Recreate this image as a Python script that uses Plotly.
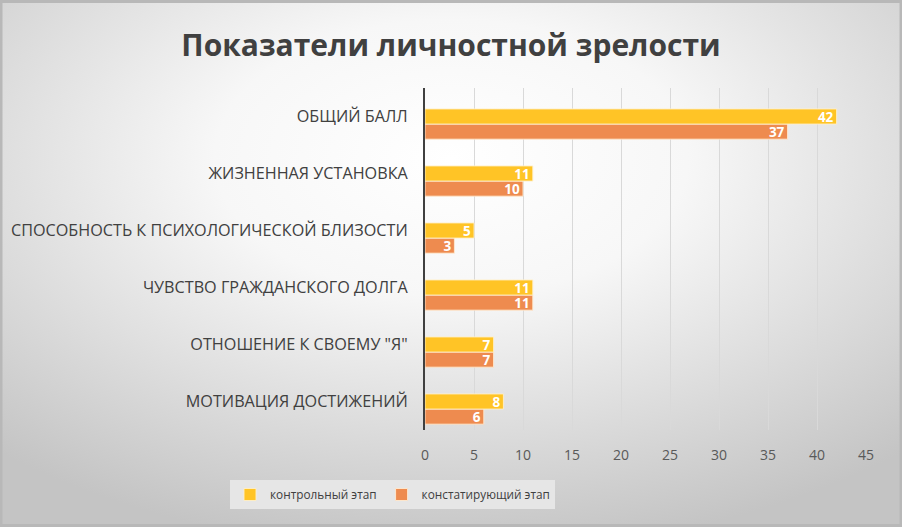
import base64
import plotly.graph_objects as go

categories = [
    "МОТИВАЦИЯ ДОСТИЖЕНИЙ",
    "ОТНОШЕНИЕ К СВОЕМУ \"Я\"",
    "ЧУВСТВО ГРАЖДАНСКОГО ДОЛГА",
    "СПОСОБНОСТЬ К ПСИХОЛОГИЧЕСКОЙ БЛИЗОСТИ",
    "ЖИЗНЕННАЯ УСТАНОВКА",
    "ОБЩИЙ БАЛЛ",
]
control_values = [8, 7, 11, 5, 11, 42]
ascertain_values = [6, 7, 11, 3, 10, 37]
series_names = ["контрольный этап", "констатирующий этап"]
x_ticks = [0, 5, 10, 15, 20, 25, 30, 35, 40, 45]

W, H = 902, 527
ML, MR, MT, MB = 425, 36, 88, 97
PW, PH = W - ML - MR, H - MT - MB

BAR_W = 0.265  # bar thickness in category units

svg = f'''<svg xmlns="http://www.w3.org/2000/svg" width="{W}" height="{H}" viewBox="0 0 {W} {H}">
<defs><radialGradient id="g" cx="50%" cy="30%" r="75%">
<stop offset="0" stop-color="#ffffff"/><stop offset="0.35" stop-color="#f7f7f7"/>
<stop offset="1" stop-color="#c4c4c4"/></radialGradient></defs>
<rect x="0" y="0" width="{W}" height="{H}" fill="url(#g)"/>
<rect x="1" y="1.5" width="{W-2}" height="{H-3}" fill="none" stroke="#b8b8b8" stroke-width="3"/>
</svg>'''
bg_src = "data:image/svg+xml;base64," + base64.b64encode(svg.encode("utf-8")).decode()

label_font = dict(color="white", size=13.5, family="Open Sans", weight="bold")

fig = go.Figure()
fig.add_trace(go.Bar(
    y=categories, x=ascertain_values, name=series_names[1], orientation="h",
    width=BAR_W, offset=-1.5 * BAR_W,
    marker=dict(color="#EE8B4F", line=dict(color="rgba(255,235,210,0.9)", width=1)),
    text=ascertain_values, textposition="inside", insidetextanchor="end",
    textfont=label_font, textangle=0, constraintext="none", cliponaxis=False,
))
fig.add_trace(go.Bar(
    y=categories, x=control_values, name=series_names[0], orientation="h",
    width=BAR_W, offset=-0.5 * BAR_W,
    marker=dict(color="#FFC426", line=dict(color="rgba(255,240,200,0.9)", width=1)),
    text=control_values, textposition="inside", insidetextanchor="end",
    textfont=label_font, textangle=0, constraintext="none", cliponaxis=False,
))

fig.update_layout(
    width=W, height=H,
    margin=dict(l=ML, r=MR, t=MT, b=MB, autoexpand=False),
    paper_bgcolor="#d0d0d0",
    plot_bgcolor="rgba(0,0,0,0)",
    barmode="overlay",
    font=dict(family="Open Sans", color="#404040"),
    title=dict(text="Показатели личностной зрелости", x=0.5, xref="container", xanchor="center",
               y=1 - 45 / H, yanchor="middle",
               font=dict(size=30, family="Open Sans", weight="bold", color="#404040")),
    xaxis=dict(range=[0, 45], tickvals=x_ticks, showgrid=True, gridcolor="#d9d9d9", gridwidth=1,
               zeroline=False, showline=False, ticks="", ticklabelstandoff=15,
               tickfont=dict(size=14, color="#595959", family="Open Sans"), fixedrange=True),
    yaxis=dict(showline=True, linecolor="#404040", linewidth=2, ticks="", ticklabelstandoff=12,
               range=[-0.5, 5.5],
               tickfont=dict(size=16.2, color="#404040", family="Open Sans"), showgrid=False),
    legend=dict(orientation="h", traceorder="reversed", x=(230 - ML) / PW, xanchor="left",
                y=(H - MB - 480) / PH, yanchor="top", bgcolor="#e6e6e6",
                font=dict(size=11.8, color="#404040", family="Open Sans"),
                itemwidth=30, tracegroupgap=0),
    showlegend=True,
    images=[dict(source=bg_src, xref="paper", yref="paper", x=-ML / PW, y=(H - MB) / PH,
                 sizex=W / PW, sizey=H / PH, xanchor="left", yanchor="top",
                 sizing="stretch", layer="below")],
)

fig.write_html("out.html", config={"displayModeBar": False},
               post_script="document.body.style.margin='0';document.body.style.overflow='hidden';")
